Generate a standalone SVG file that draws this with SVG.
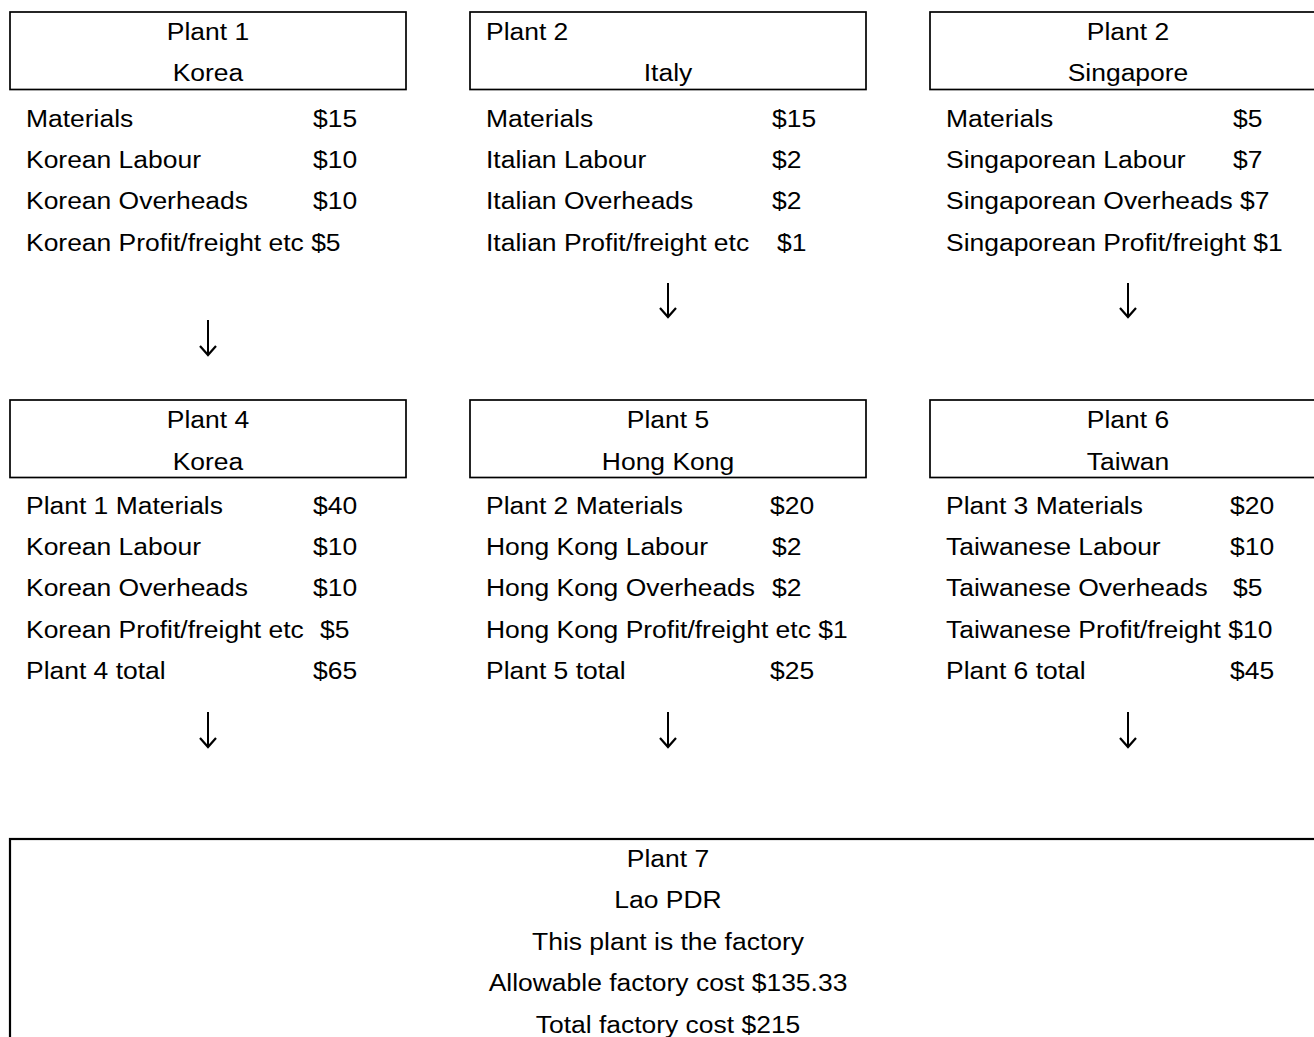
<svg xmlns="http://www.w3.org/2000/svg" width="1314" height="1037" viewBox="0 0 1314 1037">
<style>
text{font-family:"Liberation Sans",Arial,sans-serif;font-size:24.5px;fill:#000}
.c{text-anchor:middle}
.box{fill:#fff;stroke:#000;stroke-width:1.7}
.big{fill:#fff;stroke:#000;stroke-width:2.2}
.arr{fill:none;stroke:#000;stroke-width:2;marker-end:url(#head)}
</style>
<defs>
<marker id="head" markerUnits="userSpaceOnUse" viewBox="-12 -10 14 20" markerWidth="14" markerHeight="20" refX="0" refY="0" orient="auto" overflow="visible">
<path d="M-9,-8 L0,0 L-9,8" fill="none" stroke="#000" stroke-width="2.2"/>
</marker>
</defs>
<rect width="1314" height="1037" fill="#fff"/>
<g id="connectors">
<path class="arr" d="M208,320 V355"/>
<path class="arr" d="M668,283 V317"/>
<path class="arr" d="M1128,283 V317"/>
<path class="arr" d="M208,712 V747"/>
<path class="arr" d="M668,712 V747"/>
<path class="arr" d="M1128,712 V747"/>
</g>
<g id="plant1">
<rect class="box" x="10" y="12" width="396" height="77.5"/>
<text class="c" transform="translate(208 40) scale(1.08 1)">Plant 1</text>
<text class="c" transform="translate(208 81.3) scale(1.08 1)">Korea</text>
<text transform="translate(26 126.7) scale(1.08 1)">Materials</text>
<text transform="translate(313 126.7) scale(1.08 1)">$15</text>
<text transform="translate(26 168) scale(1.08 1)">Korean Labour</text>
<text transform="translate(313 168) scale(1.08 1)">$10</text>
<text transform="translate(26 209.3) scale(1.08 1)">Korean Overheads</text>
<text transform="translate(313 209.3) scale(1.08 1)">$10</text>
<text transform="translate(26 250.6) scale(1.08 1)">Korean Profit/freight etc $5</text>
</g>
<g id="plant2-italy">
<rect class="box" x="470" y="12" width="396" height="77.5"/>
<text transform="translate(486 40) scale(1.08 1)">Plant 2</text>
<text class="c" transform="translate(668 81.3) scale(1.08 1)">Italy</text>
<text transform="translate(486 126.7) scale(1.08 1)">Materials</text>
<text transform="translate(772 126.7) scale(1.08 1)">$15</text>
<text transform="translate(486 168) scale(1.08 1)">Italian Labour</text>
<text transform="translate(772 168) scale(1.08 1)">$2</text>
<text transform="translate(486 209.3) scale(1.08 1)">Italian Overheads</text>
<text transform="translate(772 209.3) scale(1.08 1)">$2</text>
<text transform="translate(486 250.6) scale(1.08 1)">Italian Profit/freight etc</text>
<text transform="translate(777 250.6) scale(1.08 1)">$1</text>
</g>
<g id="plant2-singapore">
<rect class="box" x="930" y="12" width="396" height="77.5"/>
<text class="c" transform="translate(1128 40) scale(1.08 1)">Plant 2</text>
<text class="c" transform="translate(1128 81.3) scale(1.08 1)">Singapore</text>
<text transform="translate(946 126.7) scale(1.08 1)">Materials</text>
<text transform="translate(1233 126.7) scale(1.08 1)">$5</text>
<text transform="translate(946 168) scale(1.08 1)">Singaporean Labour</text>
<text transform="translate(1233 168) scale(1.08 1)">$7</text>
<text transform="translate(946 209.3) scale(1.08 1)">Singaporean Overheads $7</text>
<text transform="translate(946 250.6) scale(1.08 1)">Singaporean Profit/freight $1</text>
</g>
<g id="plant4">
<rect class="box" x="10" y="400" width="396" height="77.5"/>
<text class="c" transform="translate(208 428.3) scale(1.08 1)">Plant 4</text>
<text class="c" transform="translate(208 469.6) scale(1.08 1)">Korea</text>
<text transform="translate(26 514) scale(1.08 1)">Plant 1 Materials</text>
<text transform="translate(313 514) scale(1.08 1)">$40</text>
<text transform="translate(26 555.2) scale(1.08 1)">Korean Labour</text>
<text transform="translate(313 555.2) scale(1.08 1)">$10</text>
<text transform="translate(26 596.4) scale(1.08 1)">Korean Overheads</text>
<text transform="translate(313 596.4) scale(1.08 1)">$10</text>
<text transform="translate(26 637.6) scale(1.08 1)">Korean Profit/freight etc</text>
<text transform="translate(320 637.6) scale(1.08 1)">$5</text>
<text transform="translate(26 678.8) scale(1.08 1)">Plant 4 total</text>
<text transform="translate(313 678.8) scale(1.08 1)">$65</text>
</g>
<g id="plant5">
<rect class="box" x="470" y="400" width="396" height="77.5"/>
<text class="c" transform="translate(668 428.3) scale(1.08 1)">Plant 5</text>
<text class="c" transform="translate(668 469.6) scale(1.08 1)">Hong Kong</text>
<text transform="translate(486 514) scale(1.08 1)">Plant 2 Materials</text>
<text transform="translate(770 514) scale(1.08 1)">$20</text>
<text transform="translate(486 555.2) scale(1.08 1)">Hong Kong Labour</text>
<text transform="translate(772 555.2) scale(1.08 1)">$2</text>
<text transform="translate(486 596.4) scale(1.08 1)">Hong Kong Overheads</text>
<text transform="translate(772 596.4) scale(1.08 1)">$2</text>
<text transform="translate(486 637.6) scale(1.08 1)">Hong Kong Profit/freight etc $1</text>
<text transform="translate(486 678.8) scale(1.08 1)">Plant 5 total</text>
<text transform="translate(770 678.8) scale(1.08 1)">$25</text>
</g>
<g id="plant6">
<rect class="box" x="930" y="400" width="396" height="77.5"/>
<text class="c" transform="translate(1128 428.3) scale(1.08 1)">Plant 6</text>
<text class="c" transform="translate(1128 469.6) scale(1.08 1)">Taiwan</text>
<text transform="translate(946 514) scale(1.08 1)">Plant 3 Materials</text>
<text transform="translate(1230 514) scale(1.08 1)">$20</text>
<text transform="translate(946 555.2) scale(1.08 1)">Taiwanese Labour</text>
<text transform="translate(1230 555.2) scale(1.08 1)">$10</text>
<text transform="translate(946 596.4) scale(1.08 1)">Taiwanese Overheads</text>
<text transform="translate(1233 596.4) scale(1.08 1)">$5</text>
<text transform="translate(946 637.6) scale(1.08 1)">Taiwanese Profit/freight $10</text>
<text transform="translate(946 678.8) scale(1.08 1)">Plant 6 total</text>
<text transform="translate(1230 678.8) scale(1.08 1)">$45</text>
</g>
<g id="plant7">
<rect class="big" x="10" y="839" width="1330" height="300"/>
<text class="c" transform="translate(668 866.5) scale(1.08 1)">Plant 7</text>
<text class="c" transform="translate(668 908) scale(1.08 1)">Lao PDR</text>
<text class="c" transform="translate(668 949.5) scale(1.08 1)">This plant is the factory</text>
<text class="c" transform="translate(668 991) scale(1.08 1)">Allowable factory cost $135.33</text>
<text class="c" transform="translate(668 1032.5) scale(1.08 1)">Total factory cost $215</text>
</g>
</svg>
